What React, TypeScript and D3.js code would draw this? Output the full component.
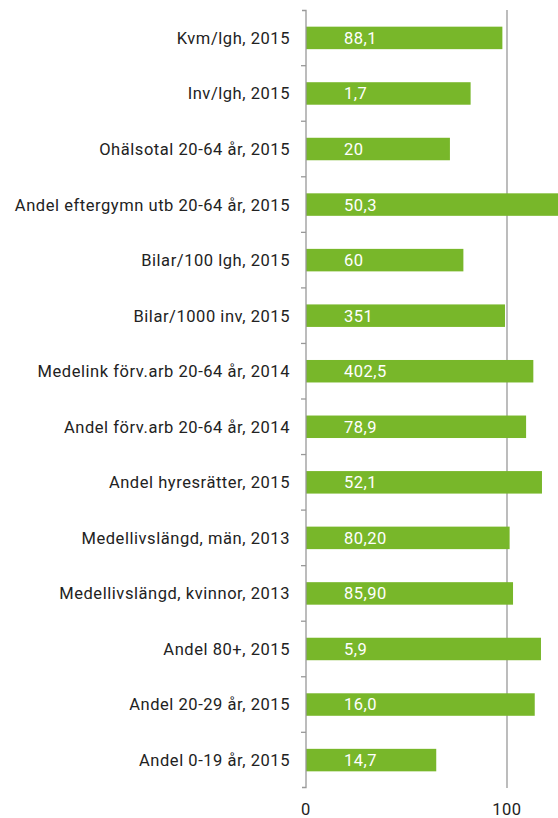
import React from "react";
import * as d3 from "d3";

const categories = [
  "Kvm/lgh, 2015",
  "Inv/lgh, 2015",
  "Ohälsotal 20-64 år, 2015",
  "Andel eftergymn utb 20-64 år, 2015",
  "Bilar/100 lgh, 2015",
  "Bilar/1000 inv, 2015",
  "Medelink förv.arb 20-64 år, 2014",
  "Andel förv.arb 20-64 år, 2014",
  "Andel hyresrätter, 2015",
  "Medellivslängd, män, 2013",
  "Medellivslängd, kvinnor, 2013",
  "Andel 80+, 2015",
  "Andel 20-29 år, 2015",
  "Andel 0-19 år, 2015",
];
const indexValues = [97.7, 81.9, 71.6, 128, 78.3, 99, 113.1, 109.5, 117.4, 101.3, 103, 116.9, 113.8, 64.8];
const valueLabels = ["88,1", "1,7", "20", "50,3", "60", "351", "402,5", "78,9", "52,1", "80,20", "85,90", "5,9", "16,0", "14,7"];
const xTicks = [0, 100];

export default function App() {
  const W = 558, H = 818;
  const x0 = 306;
  const x = d3.scaleLinear().domain([0, 100]).range([x0, 507]);
  const y = d3.scaleBand().domain(categories).range([10, 788]).paddingInner(0.595).paddingOuter(0.3);
  const font = "Roboto, sans-serif";
  return (
    <svg width={W} height={H} style={{ position: "absolute", left: 0, top: 0, display: "block" }}>
      <rect width={W} height={H} fill="#fff" />
      {xTicks.filter((t) => t !== 0).map((t) => (
        <line key={t} x1={x(t)} x2={x(t)} y1={10} y2={788} stroke="#999" strokeWidth={1.3} />
      ))}
      {categories.map((c, i) => (
        <g key={c}>
          <rect x={x0} y={y(c)} width={Math.min(x(indexValues[i]), W) - x0} height={y.bandwidth()} fill="#78b72a" />
          <text x={344} y={(y(c) as number) + y.bandwidth() / 2} dy="0.36em" fill="#fff" fontSize={16.5} letterSpacing={0.5} fontFamily={font}>
            {valueLabels[i]}
          </text>
          <text x={290} y={(y(c) as number) + y.bandwidth() / 2} dy="0.36em" textAnchor="end" fill="#222" fontSize={16.5} letterSpacing={0.55} fontFamily={font}>
            {c}
          </text>
        </g>
      ))}
      <path d={`M${x0 - 4},10.5H${x0}V787.5H${x0 - 4}`} fill="none" stroke="#999" strokeWidth={1.3} />
      {categories.slice(1).map((c) => {
        const yy = (y(c) as number) - (y.step() - y.bandwidth()) / 2;
        return <line key={c} x1={x0 - 5} x2={x0} y1={yy} y2={yy} stroke="#999" strokeWidth={1.3} />;
      })}
      {xTicks.map((t) => (
        <text key={t} x={x(t)} y={815} textAnchor="middle" fill="#222" fontSize={16.5} letterSpacing={0.5} fontFamily={font}>
          {t}
        </text>
      ))}
    </svg>
  );
}
